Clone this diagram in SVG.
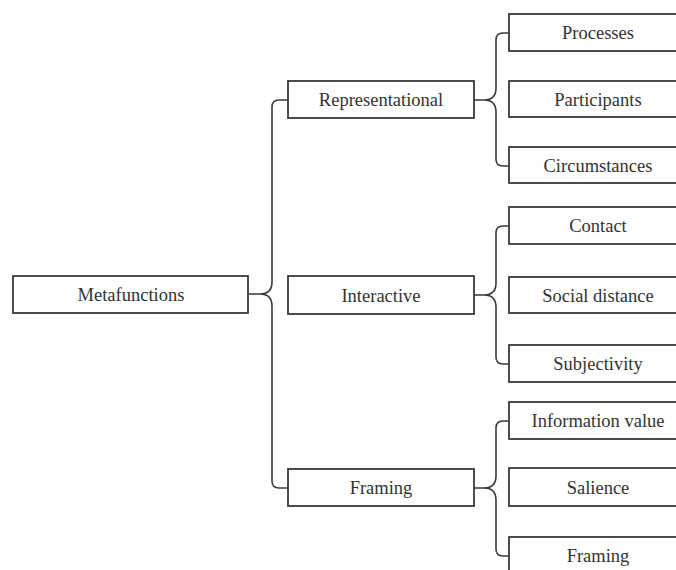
<svg xmlns="http://www.w3.org/2000/svg" width="676" height="570" viewBox="0 0 676 570">
<style>
.box{fill:#fff;stroke:#3a3a3a;stroke-width:1.8}
.lbl{font-size:18.5px;fill:#333;text-anchor:middle}
.con{fill:none;stroke:#3a3a3a;stroke-width:1.6}
</style>
<rect width="676" height="570" fill="#fff"/>
<g id="connectors">
<path class="con" d="M288 100 H279 Q272 100 272 107 V282 Q272 294 260 294 H249 M260 294 Q272 294 272 306 V481 Q272 488 279 488 H288"/>
<path class="con" d="M509 33 H503 Q496 33 496 40 V88 Q496 100 484 100 H474 M484 100 Q496 100 496 112 V159 Q496 166 503 166 H509"/>
<path class="con" d="M509 226 H503 Q496 226 496 233 V283 Q496 295 484 295 H474 M484 295 Q496 295 496 307 V357 Q496 364 503 364 H509"/>
<path class="con" d="M509 421 H503 Q496 421 496 428 V476 Q496 488 484 488 H474 M484 488 Q496 488 496 500 V549 Q496 556 503 556 H509"/>
</g>
<g id="nodes" font-family="Liberation Serif, Times New Roman, serif">
<g id="metafunctions"><rect class="box" x="13" y="276" width="235" height="37"/><text class="lbl" x="131" y="301">Metafunctions</text></g>
<g id="representational"><rect class="box" x="288" y="81" width="186" height="37"/><text class="lbl" x="381" y="106">Representational</text></g>
<g id="interactive"><rect class="box" x="288" y="276" width="186" height="38"/><text class="lbl" x="381" y="301.5">Interactive</text></g>
<g id="framing-mid"><rect class="box" x="288" y="469" width="186" height="37"/><text class="lbl" x="381" y="494">Framing</text></g>
<g id="processes"><rect class="box" x="509" y="14" width="178" height="37"/><text class="lbl" x="598" y="39">Processes</text></g>
<g id="participants"><rect class="box" x="509" y="81" width="178" height="36"/><text class="lbl" x="598" y="105.5">Participants</text></g>
<g id="circumstances"><rect class="box" x="509" y="147" width="178" height="36"/><text class="lbl" x="598" y="171.5">Circumstances</text></g>
<g id="contact"><rect class="box" x="509" y="207" width="178" height="37"/><text class="lbl" x="598" y="232">Contact</text></g>
<g id="social-distance"><rect class="box" x="509" y="277" width="178" height="36"/><text class="lbl" x="598" y="301.5">Social distance</text></g>
<g id="subjectivity"><rect class="box" x="509" y="345" width="178" height="37"/><text class="lbl" x="598" y="370">Subjectivity</text></g>
<g id="information-value"><rect class="box" x="509" y="402" width="178" height="37"/><text class="lbl" x="598" y="427">Information value</text></g>
<g id="salience"><rect class="box" x="509" y="468" width="178" height="38"/><text class="lbl" x="598" y="493.5">Salience</text></g>
<g id="framing-leaf"><rect class="box" x="509" y="537" width="178" height="37"/><text class="lbl" x="598" y="562">Framing</text></g>
</g>
</svg>
